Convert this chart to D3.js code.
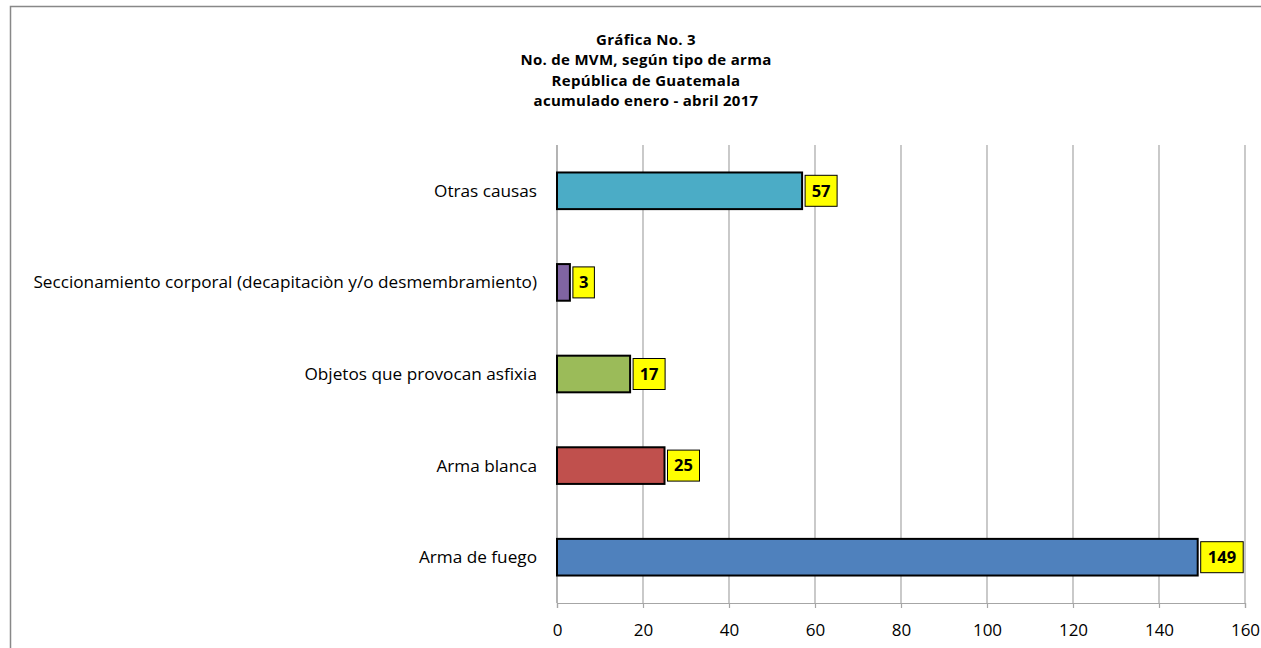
<!DOCTYPE html>
<html>
<head>
<meta charset="utf-8">
<script src="https://cdn.jsdelivr.net/npm/d3@7"></script>
<style>
  body { margin: 0; background: #fff; }
  svg { display: block; font-family: "Open Sans", sans-serif; }
</style>
</head>
<body>
<script>
// chart data
const categories = [
  "Otras causas",
  "Seccionamiento corporal (decapitaciòn y/o desmembramiento)",
  "Objetos que provocan asfixia",
  "Arma blanca",
  "Arma de fuego"
];
const values = [57, 3, 17, 25, 149];
const barColors = ["#4BACC6", "#8064A2", "#9BBB59", "#C0504D", "#4F81BD"];
const xTicks = [0, 20, 40, 60, 80, 100, 120, 140, 160];
const titleLines = [
  "Gráfica No. 3",
  "No. de MVM, según tipo de arma",
  "República de Guatemala",
  "acumulado enero - abril 2017"
];

const width = 1261;
const height = 648;

const svg = d3.select("body")
  .append("svg")
  .attr("width", width)
  .attr("height", height);

// outer chart border (only left and top visible in the frame)
svg.append("rect")
  .attr("x", 10.5)
  .attr("y", 6.5)
  .attr("width", 1300)
  .attr("height", 700)
  .style("fill", "none")
  .style("stroke", "#888")
  .style("stroke-width", 1.5);

// title
svg.append("text")
  .attr("text-anchor", "middle")
  .style("font-weight", "bold")
  .style("font-size", "15px")
  .style("letter-spacing", "0.3px")
  .selectAll("tspan")
  .data(titleLines)
  .enter()
  .append("tspan")
  .attr("x", 646)
  .attr("y", (d, i) => 44.5 + i * 20.5)
  .text((d) => d);

// scales
const xScale = d3.scaleLinear()
  .domain([0, 160])
  .range([557, 1245]);

const yScale = d3.scaleBand()
  .domain(categories)
  .range([145, 603])
  .paddingInner(0.6)
  .paddingOuter(0.3);

// vertical gridlines
svg.append("g")
  .selectAll("line")
  .data(xTicks)
  .enter()
  .append("line")
  .attr("x1", (d) => xScale(d))
  .attr("x2", (d) => xScale(d))
  .attr("y1", 145)
  .attr("y2", 603)
  .style("stroke", "#a6a6a6")
  .style("stroke-width", 1.2);

// x axis
const xAxis = d3.axisBottom(xScale)
  .tickValues(xTicks)
  .tickSize(5)
  .tickPadding(16);

const axis = svg.append("g")
  .attr("transform", "translate(0,603)")
  .call(xAxis);

axis.selectAll("path")
  .style("stroke", "#a6a6a6")
  .style("stroke-width", 1.2);

axis.selectAll("line")
  .style("stroke", "#a6a6a6")
  .style("stroke-width", 1.2);

axis.selectAll("text")
  .style("font-family", "'Open Sans', sans-serif")
  .style("font-size", "17px")
  .style("fill", "#000");

// y axis line
svg.append("line")
  .attr("x1", xScale(0))
  .attr("x2", xScale(0))
  .attr("y1", 145)
  .attr("y2", 603)
  .style("stroke", "#a6a6a6")
  .style("stroke-width", 1.2);

// category labels
svg.append("g")
  .selectAll("text")
  .data(categories)
  .enter()
  .append("text")
  .attr("x", 537)
  .attr("y", (d) => yScale(d) + yScale.bandwidth() / 2)
  .attr("dy", "0.35em")
  .attr("text-anchor", "end")
  .style("font-size", "17.2px")
  .text((d) => d);

// bars
svg.append("g")
  .selectAll("rect")
  .data(values)
  .enter()
  .append("rect")
  .attr("x", xScale(0))
  .attr("y", (d, i) => yScale(categories[i]))
  .attr("width", (d) => xScale(d) - xScale(0))
  .attr("height", yScale.bandwidth())
  .style("fill", (d, i) => barColors[i])
  .style("stroke", "#000")
  .style("stroke-width", 2);

// data labels in yellow boxes
const boxWidth = (d) => String(d).length * 10.5 + 11;

const labels = svg.append("g")
  .selectAll("g")
  .data(values)
  .enter()
  .append("g")
  .attr("transform", (d, i) =>
    "translate(" + (xScale(d) + 3) + "," + (yScale(categories[i]) + yScale.bandwidth() / 2) + ")");

labels.append("rect")
  .attr("x", 0)
  .attr("y", -15.5)
  .attr("width", boxWidth)
  .attr("height", 31)
  .style("fill", "#ffff00")
  .style("stroke", "#000")
  .style("stroke-width", 1);

labels.append("text")
  .attr("x", (d) => boxWidth(d) / 2)
  .attr("y", 0)
  .attr("dy", "0.35em")
  .attr("text-anchor", "middle")
  .style("font-weight", "bold")
  .style("font-size", "16.5px")
  .text((d) => d);
</script>
</body>
</html>
